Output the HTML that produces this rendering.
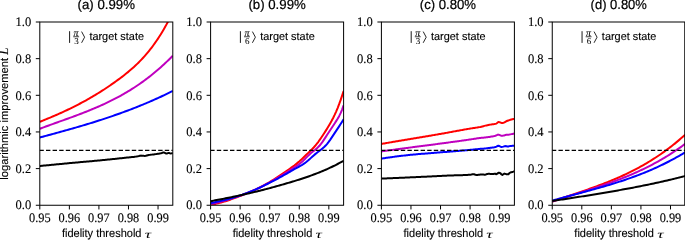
<!DOCTYPE html>
<html><head><meta charset="utf-8"><style>
html,body{margin:0;padding:0;background:#fff;}
svg{display:block;will-change:transform;}
text{text-rendering:geometricPrecision;}
.tk{font-family:"Liberation Serif",serif;font-size:13px;fill:#000;}
.sa{font-family:"Liberation Sans",sans-serif;fill:#000;}
.bd{stroke:#000;stroke-width:0.22px;}
.bl{stroke:#000;stroke-width:0.12px;}
</style></head><body>
<svg width="685" height="240" viewBox="0 0 685 240">
<rect width="685" height="240" fill="#fff"/>
<defs>
<clipPath id="c0"><rect x="39.8" y="22.0" width="133.0" height="183.25"/></clipPath>
<clipPath id="c1"><rect x="210.6" y="22.0" width="133.0" height="183.25"/></clipPath>
<clipPath id="c2"><rect x="381.4" y="22.0" width="133.0" height="183.25"/></clipPath>
<clipPath id="c3"><rect x="552.25" y="22.0" width="133.0" height="183.25"/></clipPath>
</defs>
<g clip-path="url(#c0)" fill="none" stroke-width="2.0" stroke-linejoin="round" stroke-linecap="butt">
<path d="M39.80,121.81 L41.29,121.22 L42.79,120.62 L44.28,120.02 L45.78,119.41 L47.27,118.80 L48.77,118.18 L50.26,117.56 L51.76,116.93 L53.25,116.29 L54.74,115.65 L56.24,114.99 L57.73,114.34 L59.23,113.67 L60.72,113.00 L62.22,112.32 L63.71,111.63 L65.20,110.93 L66.70,110.23 L68.19,109.52 L69.69,108.80 L71.18,108.07 L72.68,107.33 L74.17,106.58 L75.67,105.83 L77.16,105.06 L78.65,104.28 L80.15,103.50 L81.64,102.70 L83.14,101.90 L84.63,101.08 L86.13,100.26 L87.62,99.42 L89.11,98.57 L90.61,97.72 L92.10,96.85 L93.60,95.96 L95.09,95.07 L96.59,94.17 L98.08,93.25 L99.58,92.32 L101.07,91.38 L102.56,90.43 L104.06,89.47 L105.55,88.49 L107.05,87.50 L108.54,86.49 L110.04,85.47 L111.53,84.44 L113.02,83.40 L114.52,82.34 L116.01,81.27 L117.51,80.18 L119.00,79.08 L120.50,77.96 L121.99,76.83 L123.49,75.68 L124.98,74.51 L126.47,73.32 L127.97,72.10 L129.46,70.85 L130.96,69.58 L132.45,68.27 L133.95,66.93 L135.44,65.55 L136.93,64.14 L138.43,62.68 L139.92,61.17 L141.42,59.62 L142.91,58.03 L144.41,56.38 L145.90,54.67 L147.40,52.91 L148.89,51.10 L150.38,49.22 L151.88,47.28 L153.37,45.27 L154.87,43.20 L156.36,41.05 L157.86,38.84 L159.35,36.55 L160.84,34.18 L162.34,31.73 L163.83,29.20 L165.33,26.58 L166.82,23.88 L168.32,21.09 L169.81,18.21 L171.31,15.23 L172.80,12.16" stroke="#ff0000"/>
<path d="M39.80,128.77 L41.29,128.20 L42.79,127.65 L44.28,127.09 L45.78,126.54 L47.27,125.99 L48.77,125.45 L50.26,124.90 L51.76,124.36 L53.25,123.82 L54.74,123.28 L56.24,122.75 L57.73,122.21 L59.23,121.68 L60.72,121.14 L62.22,120.60 L63.71,120.07 L65.20,119.53 L66.70,118.99 L68.19,118.45 L69.69,117.91 L71.18,117.36 L72.68,116.82 L74.17,116.26 L75.67,115.71 L77.16,115.15 L78.65,114.59 L80.15,114.02 L81.64,113.45 L83.14,112.87 L84.63,112.29 L86.13,111.70 L87.62,111.11 L89.11,110.51 L90.61,109.90 L92.10,109.29 L93.60,108.66 L95.09,108.03 L96.59,107.39 L98.08,106.75 L99.58,106.09 L101.07,105.43 L102.56,104.75 L104.06,104.06 L105.55,103.37 L107.05,102.66 L108.54,101.94 L110.04,101.22 L111.53,100.47 L113.02,99.72 L114.52,98.96 L116.01,98.18 L117.51,97.39 L119.00,96.58 L120.50,95.76 L121.99,94.93 L123.49,94.08 L124.98,93.22 L126.47,92.34 L127.97,91.45 L129.46,90.54 L130.96,89.62 L132.45,88.68 L133.95,87.72 L135.44,86.74 L136.93,85.75 L138.43,84.74 L139.92,83.71 L141.42,82.66 L142.91,81.59 L144.41,80.50 L145.90,79.40 L147.40,78.27 L148.89,77.12 L150.38,75.95 L151.88,74.77 L153.37,73.56 L154.87,72.32 L156.36,71.07 L157.86,69.79 L159.35,68.49 L160.84,67.17 L162.34,65.82 L163.83,64.45 L165.33,63.06 L166.82,61.64 L168.32,60.19 L169.81,58.72 L171.31,57.23 L172.80,55.71" stroke="#bf00bf"/>
<path d="M39.80,137.49 L41.29,137.09 L42.79,136.69 L44.28,136.29 L45.78,135.89 L47.27,135.49 L48.77,135.09 L50.26,134.68 L51.76,134.28 L53.25,133.87 L54.74,133.46 L56.24,133.05 L57.73,132.64 L59.23,132.23 L60.72,131.82 L62.22,131.40 L63.71,130.99 L65.20,130.57 L66.70,130.15 L68.19,129.73 L69.69,129.31 L71.18,128.88 L72.68,128.45 L74.17,128.02 L75.67,127.59 L77.16,127.16 L78.65,126.72 L80.15,126.28 L81.64,125.84 L83.14,125.39 L84.63,124.95 L86.13,124.50 L87.62,124.04 L89.11,123.59 L90.61,123.13 L92.10,122.67 L93.60,122.20 L95.09,121.73 L96.59,121.26 L98.08,120.79 L99.58,120.31 L101.07,119.83 L102.56,119.34 L104.06,118.85 L105.55,118.36 L107.05,117.86 L108.54,117.36 L110.04,116.85 L111.53,116.34 L113.02,115.83 L114.52,115.31 L116.01,114.79 L117.51,114.26 L119.00,113.73 L120.50,113.20 L121.99,112.66 L123.49,112.11 L124.98,111.56 L126.47,111.01 L127.97,110.45 L129.46,109.88 L130.96,109.31 L132.45,108.74 L133.95,108.16 L135.44,107.57 L136.93,106.98 L138.43,106.39 L139.92,105.78 L141.42,105.18 L142.91,104.56 L144.41,103.94 L145.90,103.32 L147.40,102.69 L148.89,102.05 L150.38,101.41 L151.88,100.76 L153.37,100.10 L154.87,99.44 L156.36,98.77 L157.86,98.10 L159.35,97.42 L160.84,96.73 L162.34,96.03 L163.83,95.33 L165.33,94.62 L166.82,93.91 L168.32,93.19 L169.81,92.46 L171.31,91.72 L172.80,90.97" stroke="#0000ff"/>
<path d="M39.80,166.02 L40.80,165.92 L41.80,165.82 L42.80,165.72 L43.80,165.62 L44.80,165.53 L45.80,165.43 L46.80,165.33 L47.80,165.23 L48.80,165.13 L49.80,165.04 L50.80,164.94 L51.80,164.84 L52.80,164.74 L53.80,164.65 L54.80,164.55 L55.80,164.45 L56.80,164.36 L57.80,164.26 L58.80,164.16 L59.80,164.07 L60.80,163.97 L61.80,163.88 L62.80,163.78 L63.80,163.69 L64.80,163.59 L65.80,163.50 L66.80,163.40 L67.80,163.31 L68.80,163.21 L69.80,163.12 L70.80,163.02 L71.80,162.93 L72.80,162.84 L73.80,162.75 L74.80,162.66 L75.80,162.56 L76.80,162.47 L77.80,162.38 L78.80,162.29 L79.80,162.20 L80.80,162.12 L81.80,162.03 L82.80,161.94 L83.80,161.85 L84.80,161.76 L85.80,161.67 L86.80,161.58 L87.80,161.49 L88.80,161.40 L89.80,161.31 L90.80,161.23 L91.80,161.14 L92.80,161.05 L93.80,160.95 L94.80,160.86 L95.80,160.77 L96.80,160.68 L97.80,160.59 L98.80,160.49 L99.80,160.40 L100.80,160.31 L101.80,160.21 L102.80,160.11 L103.80,160.02 L104.80,159.92 L105.80,159.82 L106.80,159.72 L107.80,159.62 L108.80,159.52 L109.80,159.42 L110.80,159.31 L111.80,159.21 L112.80,159.11 L113.80,159.00 L114.80,158.90 L115.80,158.79 L116.80,158.68 L117.80,158.57 L118.80,158.47 L119.80,158.36 L120.80,158.25 L121.80,158.14 L122.80,158.03 L123.80,157.92 L124.80,157.81 L125.80,157.71 L126.80,157.61 L127.80,157.51 L128.80,157.42 L129.80,157.32 L130.80,157.22 L131.80,157.11 L132.80,157.01 L133.80,156.89 L134.80,156.77 L135.80,156.63 L136.80,156.49 L137.80,156.33 L138.80,156.11 L139.80,155.80 L140.80,155.61 L141.80,155.63 L142.80,155.73 L143.80,155.84 L144.80,155.90 L145.80,155.81 L146.80,155.52 L147.80,155.21 L148.80,155.02 L149.80,154.87 L150.80,154.74 L151.80,154.62 L152.80,154.51 L153.80,154.40 L154.80,154.27 L155.80,154.13 L156.80,153.99 L157.80,153.84 L158.80,153.68 L159.80,153.50 L160.80,153.30 L161.80,152.97 L162.80,152.60 L163.80,152.53 L164.80,152.92 L165.80,153.42 L166.80,153.58 L167.80,153.15 L168.80,152.91 L169.80,153.20 L170.80,153.40 L171.80,153.30 L172.80,153.00" stroke="#000000"/>
<line x1="39.4" y1="150.28" x2="172.8" y2="150.28" stroke="#000" stroke-width="1.25" stroke-dasharray="4.4 2.2"/>
</g>
<rect x="39.8" y="22.0" width="133.0" height="183.25" fill="none" stroke="#000" stroke-width="1"/>
<line x1="35.8" y1="205.25" x2="39.8" y2="205.25" stroke="#000" stroke-width="1"/>
<text class="tk bl" x="31.20" y="209.45" text-anchor="end" font-size="13.8" textLength="15.7" lengthAdjust="spacingAndGlyphs">0.0</text>
<line x1="35.8" y1="168.60" x2="39.8" y2="168.60" stroke="#000" stroke-width="1"/>
<text class="tk bl" x="31.20" y="172.80" text-anchor="end" font-size="13.8" textLength="15.7" lengthAdjust="spacingAndGlyphs">0.2</text>
<line x1="35.8" y1="131.95" x2="39.8" y2="131.95" stroke="#000" stroke-width="1"/>
<text class="tk bl" x="31.20" y="136.15" text-anchor="end" font-size="13.8" textLength="15.7" lengthAdjust="spacingAndGlyphs">0.4</text>
<line x1="35.8" y1="95.30" x2="39.8" y2="95.30" stroke="#000" stroke-width="1"/>
<text class="tk bl" x="31.20" y="99.50" text-anchor="end" font-size="13.8" textLength="15.7" lengthAdjust="spacingAndGlyphs">0.6</text>
<line x1="35.8" y1="58.65" x2="39.8" y2="58.65" stroke="#000" stroke-width="1"/>
<text class="tk bl" x="31.20" y="62.85" text-anchor="end" font-size="13.8" textLength="15.7" lengthAdjust="spacingAndGlyphs">0.8</text>
<line x1="35.8" y1="22.00" x2="39.8" y2="22.00" stroke="#000" stroke-width="1"/>
<text class="tk bl" x="31.20" y="26.20" text-anchor="end" font-size="13.8" textLength="15.7" lengthAdjust="spacingAndGlyphs">1.0</text>
<line x1="39.80" y1="205.25" x2="39.80" y2="209.45" stroke="#000" stroke-width="1"/>
<text class="tk bl" x="39.80" y="221.75" text-anchor="middle" font-size="13.8" textLength="21.6" lengthAdjust="spacingAndGlyphs">0.95</text>
<line x1="69.36" y1="205.25" x2="69.36" y2="209.45" stroke="#000" stroke-width="1"/>
<text class="tk bl" x="69.36" y="221.75" text-anchor="middle" font-size="13.8" textLength="21.6" lengthAdjust="spacingAndGlyphs">0.96</text>
<line x1="98.92" y1="205.25" x2="98.92" y2="209.45" stroke="#000" stroke-width="1"/>
<text class="tk bl" x="98.92" y="221.75" text-anchor="middle" font-size="13.8" textLength="21.6" lengthAdjust="spacingAndGlyphs">0.97</text>
<line x1="128.48" y1="205.25" x2="128.48" y2="209.45" stroke="#000" stroke-width="1"/>
<text class="tk bl" x="128.48" y="221.75" text-anchor="middle" font-size="13.8" textLength="21.6" lengthAdjust="spacingAndGlyphs">0.98</text>
<line x1="158.04" y1="205.25" x2="158.04" y2="209.45" stroke="#000" stroke-width="1"/>
<text class="tk bl" x="158.04" y="221.75" text-anchor="middle" font-size="13.8" textLength="21.6" lengthAdjust="spacingAndGlyphs">0.99</text>
<text class="sa bd" x="106.30" y="9.2" font-size="13.4" text-anchor="middle" textLength="57.4" lengthAdjust="spacingAndGlyphs">(a) 0.99%</text>
<text class="sa bl" x="61.90" y="237.4" font-size="11.6" textLength="79.6" lengthAdjust="spacingAndGlyphs">fidelity threshold</text>
<text x="144.70" y="237.7" font-family="Liberation Serif" font-style="italic" font-size="11.5" textLength="6.4" lengthAdjust="spacingAndGlyphs">τ</text>
<line x1="69.60" y1="31.2" x2="69.60" y2="42.9" stroke="#000" stroke-width="0.9"/>
<text x="73.60" y="35.7" font-family="Liberation Serif" font-style="italic" font-size="10" stroke="#000" stroke-width="0.1" textLength="5.0" lengthAdjust="spacingAndGlyphs">π</text>
<line x1="73.20" y1="36.75" x2="79.10" y2="36.75" stroke="#000" stroke-width="0.75"/>
<text x="74.20" y="44.1" font-family="Liberation Serif" font-size="9" stroke="#000" stroke-width="0.05">3</text>
<polyline points="81.60,31.6 84.60,37.2 81.60,42.8" fill="none" stroke="#000" stroke-width="0.85"/>
<text class="sa bl" x="89.40" y="40.4" font-size="11.2" textLength="54.6" lengthAdjust="spacingAndGlyphs">target state</text>
<g clip-path="url(#c1)" fill="none" stroke-width="2.0" stroke-linejoin="round" stroke-linecap="butt">
<path d="M210.60,204.66 L212.09,204.43 L213.59,204.18 L215.08,203.90 L216.58,203.58 L218.07,203.24 L219.57,202.88 L221.06,202.48 L222.56,202.07 L224.05,201.63 L225.54,201.17 L227.04,200.70 L228.53,200.20 L230.03,199.69 L231.52,199.17 L233.02,198.63 L234.51,198.08 L236.00,197.53 L237.50,196.96 L238.99,196.39 L240.49,195.81 L241.98,195.22 L243.48,194.63 L244.97,194.04 L246.47,193.43 L247.96,192.81 L249.45,192.19 L250.95,191.55 L252.44,190.90 L253.94,190.23 L255.43,189.55 L256.93,188.85 L258.42,188.13 L259.91,187.39 L261.41,186.64 L262.90,185.86 L264.40,185.05 L265.89,184.23 L267.39,183.38 L268.88,182.51 L270.38,181.63 L271.87,180.72 L273.36,179.80 L274.86,178.86 L276.35,177.90 L277.85,176.93 L279.34,175.94 L280.84,174.94 L282.33,173.93 L283.82,172.91 L285.32,171.88 L286.81,170.84 L288.31,169.79 L289.80,168.74 L291.30,167.67 L292.79,166.59 L294.29,165.49 L295.78,164.34 L297.27,163.14 L298.77,161.88 L300.26,160.55 L301.76,159.16 L303.25,157.73 L304.75,156.28 L306.24,154.83 L307.73,153.40 L309.23,151.97 L310.72,150.52 L312.22,149.03 L313.71,147.46 L315.21,145.79 L316.70,143.98 L318.20,142.02 L319.69,139.93 L321.18,137.75 L322.68,135.51 L324.17,133.23 L325.67,130.91 L327.16,128.52 L328.66,126.05 L330.15,123.48 L331.64,120.80 L333.14,117.95 L334.63,114.91 L336.13,111.62 L337.62,108.05 L339.12,104.21 L340.61,100.07 L342.11,95.66 L343.60,90.96" stroke="#ff0000"/>
<path d="M210.60,204.02 L212.09,203.72 L213.59,203.40 L215.08,203.07 L216.58,202.73 L218.07,202.38 L219.57,202.01 L221.06,201.63 L222.56,201.24 L224.05,200.83 L225.54,200.42 L227.04,199.99 L228.53,199.55 L230.03,199.10 L231.52,198.63 L233.02,198.15 L234.51,197.67 L236.00,197.17 L237.50,196.66 L238.99,196.13 L240.49,195.60 L241.98,195.06 L243.48,194.50 L244.97,193.93 L246.47,193.35 L247.96,192.76 L249.45,192.15 L250.95,191.53 L252.44,190.89 L253.94,190.24 L255.43,189.58 L256.93,188.90 L258.42,188.20 L259.91,187.49 L261.41,186.76 L262.90,186.02 L264.40,185.25 L265.89,184.47 L267.39,183.68 L268.88,182.87 L270.38,182.04 L271.87,181.20 L273.36,180.35 L274.86,179.48 L276.35,178.61 L277.85,177.72 L279.34,176.82 L280.84,175.91 L282.33,175.00 L283.82,174.08 L285.32,173.15 L286.81,172.21 L288.31,171.27 L289.80,170.32 L291.30,169.37 L292.79,168.42 L294.29,167.46 L295.78,166.50 L297.27,165.50 L298.77,164.44 L300.26,163.30 L301.76,162.05 L303.25,160.66 L304.75,159.18 L306.24,157.66 L307.73,156.14 L309.23,154.69 L310.72,153.34 L312.22,152.10 L313.71,150.91 L315.21,149.70 L316.70,148.44 L318.20,147.05 L319.69,145.49 L321.18,143.69 L322.68,141.63 L324.17,139.40 L325.67,137.09 L327.16,134.78 L328.66,132.51 L330.15,130.26 L331.64,128.02 L333.14,125.76 L334.63,123.47 L336.13,121.13 L337.62,118.73 L339.12,116.13 L340.61,113.15 L342.11,109.59 L343.60,105.26" stroke="#bf00bf"/>
<path d="M210.60,202.97 L212.09,202.71 L213.59,202.43 L215.08,202.15 L216.58,201.85 L218.07,201.54 L219.57,201.21 L221.06,200.88 L222.56,200.53 L224.05,200.17 L225.54,199.80 L227.04,199.41 L228.53,199.01 L230.03,198.60 L231.52,198.17 L233.02,197.73 L234.51,197.28 L236.00,196.82 L237.50,196.34 L238.99,195.85 L240.49,195.35 L241.98,194.83 L243.48,194.30 L244.97,193.75 L246.47,193.19 L247.96,192.62 L249.45,192.03 L250.95,191.43 L252.44,190.82 L253.94,190.19 L255.43,189.55 L256.93,188.90 L258.42,188.23 L259.91,187.55 L261.41,186.86 L262.90,186.15 L264.40,185.44 L265.89,184.71 L267.39,183.98 L268.88,183.23 L270.38,182.47 L271.87,181.70 L273.36,180.92 L274.86,180.13 L276.35,179.33 L277.85,178.53 L279.34,177.71 L280.84,176.89 L282.33,176.05 L283.82,175.21 L285.32,174.36 L286.81,173.51 L288.31,172.64 L289.80,171.78 L291.30,170.92 L292.79,170.06 L294.29,169.21 L295.78,168.38 L297.27,167.56 L298.77,166.75 L300.26,165.92 L301.76,165.05 L303.25,164.12 L304.75,163.11 L306.24,162.00 L307.73,160.78 L309.23,159.47 L310.72,158.12 L312.22,156.75 L313.71,155.41 L315.21,154.13 L316.70,152.94 L318.20,151.81 L319.69,150.70 L321.18,149.56 L322.68,148.36 L324.17,147.03 L325.67,145.55 L327.16,143.86 L328.66,141.95 L330.15,139.86 L331.64,137.65 L333.14,135.41 L334.63,133.16 L336.13,130.91 L337.62,128.64 L339.12,126.36 L340.61,124.06 L342.11,121.73 L343.60,119.36" stroke="#0000ff"/>
<path d="M210.60,201.17 L212.09,200.90 L213.59,200.62 L215.08,200.34 L216.58,200.06 L218.07,199.78 L219.57,199.49 L221.06,199.21 L222.56,198.92 L224.05,198.63 L225.54,198.33 L227.04,198.03 L228.53,197.73 L230.03,197.43 L231.52,197.13 L233.02,196.82 L234.51,196.51 L236.00,196.19 L237.50,195.87 L238.99,195.55 L240.49,195.23 L241.98,194.90 L243.48,194.57 L244.97,194.23 L246.47,193.89 L247.96,193.55 L249.45,193.20 L250.95,192.85 L252.44,192.50 L253.94,192.14 L255.43,191.78 L256.93,191.41 L258.42,191.04 L259.91,190.67 L261.41,190.29 L262.90,189.91 L264.40,189.52 L265.89,189.13 L267.39,188.74 L268.88,188.35 L270.38,187.95 L271.87,187.54 L273.36,187.14 L274.86,186.73 L276.35,186.31 L277.85,185.90 L279.34,185.48 L280.84,185.05 L282.33,184.63 L283.82,184.20 L285.32,183.77 L286.81,183.33 L288.31,182.89 L289.80,182.45 L291.30,182.00 L292.79,181.55 L294.29,181.10 L295.78,180.64 L297.27,180.17 L298.77,179.70 L300.26,179.22 L301.76,178.73 L303.25,178.24 L304.75,177.74 L306.24,177.23 L307.73,176.71 L309.23,176.19 L310.72,175.65 L312.22,175.11 L313.71,174.55 L315.21,173.99 L316.70,173.41 L318.20,172.83 L319.69,172.23 L321.18,171.62 L322.68,171.00 L324.17,170.36 L325.67,169.71 L327.16,169.05 L328.66,168.38 L330.15,167.69 L331.64,166.98 L333.14,166.26 L334.63,165.53 L336.13,164.78 L337.62,164.01 L339.12,163.23 L340.61,162.43 L342.11,161.61 L343.60,160.77" stroke="#000000"/>
<line x1="210.2" y1="150.28" x2="343.6" y2="150.28" stroke="#000" stroke-width="1.25" stroke-dasharray="4.4 2.2"/>
</g>
<rect x="210.6" y="22.0" width="133.0" height="183.25" fill="none" stroke="#000" stroke-width="1"/>
<line x1="206.6" y1="205.25" x2="210.6" y2="205.25" stroke="#000" stroke-width="1"/>
<text class="tk bl" x="202.00" y="209.45" text-anchor="end" font-size="13.8" textLength="15.7" lengthAdjust="spacingAndGlyphs">0.0</text>
<line x1="206.6" y1="168.60" x2="210.6" y2="168.60" stroke="#000" stroke-width="1"/>
<text class="tk bl" x="202.00" y="172.80" text-anchor="end" font-size="13.8" textLength="15.7" lengthAdjust="spacingAndGlyphs">0.2</text>
<line x1="206.6" y1="131.95" x2="210.6" y2="131.95" stroke="#000" stroke-width="1"/>
<text class="tk bl" x="202.00" y="136.15" text-anchor="end" font-size="13.8" textLength="15.7" lengthAdjust="spacingAndGlyphs">0.4</text>
<line x1="206.6" y1="95.30" x2="210.6" y2="95.30" stroke="#000" stroke-width="1"/>
<text class="tk bl" x="202.00" y="99.50" text-anchor="end" font-size="13.8" textLength="15.7" lengthAdjust="spacingAndGlyphs">0.6</text>
<line x1="206.6" y1="58.65" x2="210.6" y2="58.65" stroke="#000" stroke-width="1"/>
<text class="tk bl" x="202.00" y="62.85" text-anchor="end" font-size="13.8" textLength="15.7" lengthAdjust="spacingAndGlyphs">0.8</text>
<line x1="206.6" y1="22.00" x2="210.6" y2="22.00" stroke="#000" stroke-width="1"/>
<text class="tk bl" x="202.00" y="26.20" text-anchor="end" font-size="13.8" textLength="15.7" lengthAdjust="spacingAndGlyphs">1.0</text>
<line x1="210.60" y1="205.25" x2="210.60" y2="209.45" stroke="#000" stroke-width="1"/>
<text class="tk bl" x="210.60" y="221.75" text-anchor="middle" font-size="13.8" textLength="21.6" lengthAdjust="spacingAndGlyphs">0.95</text>
<line x1="240.16" y1="205.25" x2="240.16" y2="209.45" stroke="#000" stroke-width="1"/>
<text class="tk bl" x="240.16" y="221.75" text-anchor="middle" font-size="13.8" textLength="21.6" lengthAdjust="spacingAndGlyphs">0.96</text>
<line x1="269.72" y1="205.25" x2="269.72" y2="209.45" stroke="#000" stroke-width="1"/>
<text class="tk bl" x="269.72" y="221.75" text-anchor="middle" font-size="13.8" textLength="21.6" lengthAdjust="spacingAndGlyphs">0.97</text>
<line x1="299.28" y1="205.25" x2="299.28" y2="209.45" stroke="#000" stroke-width="1"/>
<text class="tk bl" x="299.28" y="221.75" text-anchor="middle" font-size="13.8" textLength="21.6" lengthAdjust="spacingAndGlyphs">0.98</text>
<line x1="328.84" y1="205.25" x2="328.84" y2="209.45" stroke="#000" stroke-width="1"/>
<text class="tk bl" x="328.84" y="221.75" text-anchor="middle" font-size="13.8" textLength="21.6" lengthAdjust="spacingAndGlyphs">0.99</text>
<text class="sa bd" x="277.10" y="9.2" font-size="13.4" text-anchor="middle" textLength="57.4" lengthAdjust="spacingAndGlyphs">(b) 0.99%</text>
<text class="sa bl" x="232.70" y="237.4" font-size="11.6" textLength="79.6" lengthAdjust="spacingAndGlyphs">fidelity threshold</text>
<text x="315.50" y="237.7" font-family="Liberation Serif" font-style="italic" font-size="11.5" textLength="6.4" lengthAdjust="spacingAndGlyphs">τ</text>
<line x1="240.40" y1="31.2" x2="240.40" y2="42.9" stroke="#000" stroke-width="0.9"/>
<text x="244.40" y="35.7" font-family="Liberation Serif" font-style="italic" font-size="10" stroke="#000" stroke-width="0.1" textLength="5.0" lengthAdjust="spacingAndGlyphs">π</text>
<line x1="244.00" y1="36.75" x2="249.90" y2="36.75" stroke="#000" stroke-width="0.75"/>
<text x="245.00" y="44.1" font-family="Liberation Serif" font-size="9" stroke="#000" stroke-width="0.05">6</text>
<polyline points="252.40,31.6 255.40,37.2 252.40,42.8" fill="none" stroke="#000" stroke-width="0.85"/>
<text class="sa bl" x="260.20" y="40.4" font-size="11.2" textLength="54.6" lengthAdjust="spacingAndGlyphs">target state</text>
<g clip-path="url(#c2)" fill="none" stroke-width="2.0" stroke-linejoin="round" stroke-linecap="butt">
<path d="M381.40,143.90 L382.40,143.73 L383.40,143.56 L384.40,143.39 L385.40,143.22 L386.40,143.05 L387.40,142.88 L388.40,142.71 L389.40,142.54 L390.40,142.37 L391.40,142.20 L392.40,142.03 L393.40,141.86 L394.40,141.69 L395.40,141.52 L396.40,141.35 L397.40,141.18 L398.40,141.01 L399.40,140.84 L400.40,140.67 L401.40,140.50 L402.40,140.34 L403.40,140.17 L404.40,140.00 L405.40,139.83 L406.40,139.66 L407.40,139.49 L408.40,139.32 L409.40,139.15 L410.40,138.98 L411.40,138.81 L412.40,138.65 L413.40,138.48 L414.40,138.31 L415.40,138.14 L416.40,137.98 L417.40,137.81 L418.40,137.64 L419.40,137.48 L420.40,137.31 L421.40,137.14 L422.40,136.98 L423.40,136.81 L424.40,136.64 L425.40,136.48 L426.40,136.31 L427.40,136.14 L428.40,135.98 L429.40,135.81 L430.40,135.64 L431.40,135.47 L432.40,135.30 L433.40,135.13 L434.40,134.96 L435.40,134.79 L436.40,134.62 L437.40,134.45 L438.40,134.28 L439.40,134.10 L440.40,133.93 L441.40,133.75 L442.40,133.58 L443.40,133.40 L444.40,133.22 L445.40,133.04 L446.40,132.86 L447.40,132.68 L448.40,132.49 L449.40,132.31 L450.40,132.13 L451.40,131.94 L452.40,131.76 L453.40,131.57 L454.40,131.39 L455.40,131.20 L456.40,131.02 L457.40,130.83 L458.40,130.65 L459.40,130.47 L460.40,130.29 L461.40,130.11 L462.40,129.92 L463.40,129.75 L464.40,129.57 L465.40,129.39 L466.40,129.22 L467.40,129.04 L468.40,128.87 L469.40,128.70 L470.40,128.53 L471.40,128.37 L472.40,128.22 L473.40,128.07 L474.40,127.93 L475.40,127.78 L476.40,127.63 L477.40,127.47 L478.40,127.30 L479.40,127.12 L480.40,126.92 L481.40,126.68 L482.40,126.43 L483.40,126.16 L484.40,125.89 L485.40,125.64 L486.40,125.41 L487.40,125.20 L488.40,125.01 L489.40,124.81 L490.40,124.63 L491.40,124.48 L492.40,124.36 L493.40,124.23 L494.40,124.08 L495.40,123.88 L496.40,123.60 L497.40,122.77 L498.40,121.90 L499.40,122.12 L500.40,122.54 L501.40,122.90 L502.40,122.99 L503.40,122.75 L504.40,122.31 L505.40,121.77 L506.40,121.23 L507.40,120.78 L508.40,120.45 L509.40,120.13 L510.40,119.83 L511.40,119.55 L512.40,119.30 L513.40,119.08 L514.40,118.90" stroke="#ff0000"/>
<path d="M381.40,151.40 L382.40,151.26 L383.40,151.13 L384.40,150.99 L385.40,150.85 L386.40,150.72 L387.40,150.58 L388.40,150.45 L389.40,150.31 L390.40,150.17 L391.40,150.04 L392.40,149.90 L393.40,149.77 L394.40,149.63 L395.40,149.50 L396.40,149.36 L397.40,149.23 L398.40,149.10 L399.40,148.96 L400.40,148.83 L401.40,148.69 L402.40,148.56 L403.40,148.43 L404.40,148.29 L405.40,148.16 L406.40,148.03 L407.40,147.89 L408.40,147.76 L409.40,147.63 L410.40,147.50 L411.40,147.37 L412.40,147.23 L413.40,147.10 L414.40,146.97 L415.40,146.84 L416.40,146.71 L417.40,146.58 L418.40,146.45 L419.40,146.33 L420.40,146.20 L421.40,146.07 L422.40,145.94 L423.40,145.81 L424.40,145.68 L425.40,145.56 L426.40,145.43 L427.40,145.30 L428.40,145.17 L429.40,145.04 L430.40,144.91 L431.40,144.78 L432.40,144.65 L433.40,144.52 L434.40,144.39 L435.40,144.26 L436.40,144.13 L437.40,144.00 L438.40,143.86 L439.40,143.73 L440.40,143.60 L441.40,143.46 L442.40,143.33 L443.40,143.19 L444.40,143.06 L445.40,142.92 L446.40,142.79 L447.40,142.65 L448.40,142.52 L449.40,142.38 L450.40,142.25 L451.40,142.11 L452.40,141.97 L453.40,141.84 L454.40,141.70 L455.40,141.56 L456.40,141.42 L457.40,141.28 L458.40,141.15 L459.40,141.01 L460.40,140.87 L461.40,140.73 L462.40,140.59 L463.40,140.44 L464.40,140.30 L465.40,140.16 L466.40,140.02 L467.40,139.87 L468.40,139.73 L469.40,139.59 L470.40,139.44 L471.40,139.29 L472.40,139.13 L473.40,138.97 L474.40,138.81 L475.40,138.65 L476.40,138.50 L477.40,138.35 L478.40,138.21 L479.40,138.07 L480.40,137.95 L481.40,137.85 L482.40,137.76 L483.40,137.67 L484.40,137.57 L485.40,137.47 L486.40,137.35 L487.40,137.22 L488.40,137.08 L489.40,136.92 L490.40,136.76 L491.40,136.59 L492.40,136.42 L493.40,136.24 L494.40,136.04 L495.40,135.77 L496.40,135.31 L497.40,134.84 L498.40,134.60 L499.40,134.86 L500.40,135.43 L501.40,135.80 L502.40,135.75 L503.40,135.60 L504.40,135.40 L505.40,135.05 L506.40,134.84 L507.40,134.75 L508.40,134.67 L509.40,134.54 L510.40,134.36 L511.40,134.14 L512.40,133.93 L513.40,133.75 L514.40,133.60" stroke="#bf00bf"/>
<path d="M381.40,158.60 L382.40,158.45 L383.40,158.30 L384.40,158.15 L385.40,158.00 L386.40,157.86 L387.40,157.71 L388.40,157.57 L389.40,157.43 L390.40,157.29 L391.40,157.15 L392.40,157.01 L393.40,156.88 L394.40,156.74 L395.40,156.61 L396.40,156.48 L397.40,156.35 L398.40,156.22 L399.40,156.10 L400.40,155.98 L401.40,155.85 L402.40,155.74 L403.40,155.62 L404.40,155.50 L405.40,155.39 L406.40,155.28 L407.40,155.17 L408.40,155.07 L409.40,154.96 L410.40,154.86 L411.40,154.76 L412.40,154.66 L413.40,154.57 L414.40,154.47 L415.40,154.38 L416.40,154.29 L417.40,154.21 L418.40,154.12 L419.40,154.04 L420.40,153.95 L421.40,153.87 L422.40,153.79 L423.40,153.71 L424.40,153.63 L425.40,153.55 L426.40,153.47 L427.40,153.39 L428.40,153.32 L429.40,153.24 L430.40,153.16 L431.40,153.08 L432.40,153.01 L433.40,152.93 L434.40,152.85 L435.40,152.77 L436.40,152.69 L437.40,152.61 L438.40,152.53 L439.40,152.45 L440.40,152.37 L441.40,152.28 L442.40,152.20 L443.40,152.12 L444.40,152.04 L445.40,151.96 L446.40,151.88 L447.40,151.80 L448.40,151.72 L449.40,151.63 L450.40,151.55 L451.40,151.47 L452.40,151.39 L453.40,151.31 L454.40,151.23 L455.40,151.15 L456.40,151.07 L457.40,150.99 L458.40,150.91 L459.40,150.82 L460.40,150.74 L461.40,150.66 L462.40,150.57 L463.40,150.49 L464.40,150.40 L465.40,150.31 L466.40,150.23 L467.40,150.14 L468.40,150.05 L469.40,149.96 L470.40,149.86 L471.40,149.77 L472.40,149.67 L473.40,149.56 L474.40,149.46 L475.40,149.36 L476.40,149.25 L477.40,149.15 L478.40,149.05 L479.40,148.96 L480.40,148.86 L481.40,148.78 L482.40,148.71 L483.40,148.63 L484.40,148.55 L485.40,148.46 L486.40,148.36 L487.40,148.23 L488.40,148.09 L489.40,147.95 L490.40,147.80 L491.40,147.65 L492.40,147.51 L493.40,147.40 L494.40,147.29 L495.40,147.09 L496.40,146.58 L497.40,146.01 L498.40,145.70 L499.40,145.98 L500.40,146.60 L501.40,147.00 L502.40,146.88 L503.40,146.62 L504.40,146.33 L505.40,146.10 L506.40,146.31 L507.40,146.60 L508.40,146.44 L509.40,146.12 L510.40,145.96 L511.40,145.90 L512.40,145.84 L513.40,145.78 L514.40,145.70" stroke="#0000ff"/>
<path d="M381.40,178.60 L382.40,178.56 L383.40,178.52 L384.40,178.48 L385.40,178.44 L386.40,178.40 L387.40,178.36 L388.40,178.31 L389.40,178.27 L390.40,178.23 L391.40,178.19 L392.40,178.15 L393.40,178.10 L394.40,178.06 L395.40,178.02 L396.40,177.98 L397.40,177.93 L398.40,177.89 L399.40,177.85 L400.40,177.80 L401.40,177.76 L402.40,177.72 L403.40,177.67 L404.40,177.63 L405.40,177.58 L406.40,177.54 L407.40,177.50 L408.40,177.45 L409.40,177.41 L410.40,177.36 L411.40,177.32 L412.40,177.27 L413.40,177.23 L414.40,177.18 L415.40,177.14 L416.40,177.09 L417.40,177.05 L418.40,177.00 L419.40,176.95 L420.40,176.91 L421.40,176.86 L422.40,176.82 L423.40,176.77 L424.40,176.72 L425.40,176.68 L426.40,176.63 L427.40,176.58 L428.40,176.54 L429.40,176.49 L430.40,176.44 L431.40,176.39 L432.40,176.34 L433.40,176.29 L434.40,176.23 L435.40,176.18 L436.40,176.13 L437.40,176.08 L438.40,176.03 L439.40,175.98 L440.40,175.93 L441.40,175.88 L442.40,175.83 L443.40,175.79 L444.40,175.74 L445.40,175.69 L446.40,175.65 L447.40,175.60 L448.40,175.56 L449.40,175.53 L450.40,175.49 L451.40,175.46 L452.40,175.43 L453.40,175.40 L454.40,175.37 L455.40,175.34 L456.40,175.32 L457.40,175.29 L458.40,175.26 L459.40,175.23 L460.40,175.20 L461.40,175.17 L462.40,175.14 L463.40,175.10 L464.40,175.06 L465.40,175.01 L466.40,174.97 L467.40,174.91 L468.40,174.85 L469.40,174.79 L470.40,174.71 L471.40,174.54 L472.40,174.34 L473.40,174.21 L474.40,174.36 L475.40,174.86 L476.40,174.99 L477.40,174.91 L478.40,174.78 L479.40,174.64 L480.40,174.54 L481.40,174.50 L482.40,174.54 L483.40,174.62 L484.40,174.69 L485.40,174.66 L486.40,174.29 L487.40,173.89 L488.40,173.81 L489.40,173.87 L490.40,173.96 L491.40,174.05 L492.40,174.10 L493.40,174.02 L494.40,173.86 L495.40,173.75 L496.40,174.25 L497.40,173.69 L498.40,172.71 L499.40,172.83 L500.40,173.25 L501.40,174.42 L502.40,174.98 L503.40,174.28 L504.40,173.61 L505.40,173.89 L506.40,174.16 L507.40,174.27 L508.40,174.27 L509.40,173.11 L510.40,172.50 L511.40,172.17 L512.40,171.91 L513.40,171.63 L514.40,171.30" stroke="#000000"/>
<line x1="381.0" y1="150.28" x2="514.4" y2="150.28" stroke="#000" stroke-width="1.25" stroke-dasharray="4.4 2.2"/>
</g>
<rect x="381.4" y="22.0" width="133.0" height="183.25" fill="none" stroke="#000" stroke-width="1"/>
<line x1="377.4" y1="205.25" x2="381.4" y2="205.25" stroke="#000" stroke-width="1"/>
<text class="tk bl" x="372.80" y="209.45" text-anchor="end" font-size="13.8" textLength="15.7" lengthAdjust="spacingAndGlyphs">0.0</text>
<line x1="377.4" y1="168.60" x2="381.4" y2="168.60" stroke="#000" stroke-width="1"/>
<text class="tk bl" x="372.80" y="172.80" text-anchor="end" font-size="13.8" textLength="15.7" lengthAdjust="spacingAndGlyphs">0.2</text>
<line x1="377.4" y1="131.95" x2="381.4" y2="131.95" stroke="#000" stroke-width="1"/>
<text class="tk bl" x="372.80" y="136.15" text-anchor="end" font-size="13.8" textLength="15.7" lengthAdjust="spacingAndGlyphs">0.4</text>
<line x1="377.4" y1="95.30" x2="381.4" y2="95.30" stroke="#000" stroke-width="1"/>
<text class="tk bl" x="372.80" y="99.50" text-anchor="end" font-size="13.8" textLength="15.7" lengthAdjust="spacingAndGlyphs">0.6</text>
<line x1="377.4" y1="58.65" x2="381.4" y2="58.65" stroke="#000" stroke-width="1"/>
<text class="tk bl" x="372.80" y="62.85" text-anchor="end" font-size="13.8" textLength="15.7" lengthAdjust="spacingAndGlyphs">0.8</text>
<line x1="377.4" y1="22.00" x2="381.4" y2="22.00" stroke="#000" stroke-width="1"/>
<text class="tk bl" x="372.80" y="26.20" text-anchor="end" font-size="13.8" textLength="15.7" lengthAdjust="spacingAndGlyphs">1.0</text>
<line x1="381.40" y1="205.25" x2="381.40" y2="209.45" stroke="#000" stroke-width="1"/>
<text class="tk bl" x="381.40" y="221.75" text-anchor="middle" font-size="13.8" textLength="21.6" lengthAdjust="spacingAndGlyphs">0.95</text>
<line x1="410.96" y1="205.25" x2="410.96" y2="209.45" stroke="#000" stroke-width="1"/>
<text class="tk bl" x="410.96" y="221.75" text-anchor="middle" font-size="13.8" textLength="21.6" lengthAdjust="spacingAndGlyphs">0.96</text>
<line x1="440.52" y1="205.25" x2="440.52" y2="209.45" stroke="#000" stroke-width="1"/>
<text class="tk bl" x="440.52" y="221.75" text-anchor="middle" font-size="13.8" textLength="21.6" lengthAdjust="spacingAndGlyphs">0.97</text>
<line x1="470.08" y1="205.25" x2="470.08" y2="209.45" stroke="#000" stroke-width="1"/>
<text class="tk bl" x="470.08" y="221.75" text-anchor="middle" font-size="13.8" textLength="21.6" lengthAdjust="spacingAndGlyphs">0.98</text>
<line x1="499.64" y1="205.25" x2="499.64" y2="209.45" stroke="#000" stroke-width="1"/>
<text class="tk bl" x="499.64" y="221.75" text-anchor="middle" font-size="13.8" textLength="21.6" lengthAdjust="spacingAndGlyphs">0.99</text>
<text class="sa bd" x="447.90" y="9.2" font-size="13.4" text-anchor="middle" textLength="56.3" lengthAdjust="spacingAndGlyphs">(c) 0.80%</text>
<text class="sa bl" x="403.50" y="237.4" font-size="11.6" textLength="79.6" lengthAdjust="spacingAndGlyphs">fidelity threshold</text>
<text x="486.30" y="237.7" font-family="Liberation Serif" font-style="italic" font-size="11.5" textLength="6.4" lengthAdjust="spacingAndGlyphs">τ</text>
<line x1="411.20" y1="31.2" x2="411.20" y2="42.9" stroke="#000" stroke-width="0.9"/>
<text x="415.20" y="35.7" font-family="Liberation Serif" font-style="italic" font-size="10" stroke="#000" stroke-width="0.1" textLength="5.0" lengthAdjust="spacingAndGlyphs">π</text>
<line x1="414.80" y1="36.75" x2="420.70" y2="36.75" stroke="#000" stroke-width="0.75"/>
<text x="415.80" y="44.1" font-family="Liberation Serif" font-size="9" stroke="#000" stroke-width="0.05">3</text>
<polyline points="423.20,31.6 426.20,37.2 423.20,42.8" fill="none" stroke="#000" stroke-width="0.85"/>
<text class="sa bl" x="431.00" y="40.4" font-size="11.2" textLength="54.6" lengthAdjust="spacingAndGlyphs">target state</text>
<g clip-path="url(#c3)" fill="none" stroke-width="2.0" stroke-linejoin="round" stroke-linecap="butt">
<path d="M552.25,201.55 L553.74,201.03 L555.24,200.52 L556.73,200.00 L558.23,199.49 L559.72,198.98 L561.22,198.48 L562.71,197.97 L564.21,197.47 L565.70,196.96 L567.19,196.46 L568.69,195.96 L570.18,195.46 L571.68,194.96 L573.17,194.45 L574.67,193.95 L576.16,193.44 L577.65,192.94 L579.15,192.43 L580.64,191.92 L582.14,191.41 L583.63,190.89 L585.13,190.38 L586.62,189.86 L588.12,189.33 L589.61,188.80 L591.10,188.27 L592.60,187.74 L594.09,187.20 L595.59,186.65 L597.08,186.10 L598.58,185.55 L600.07,184.99 L601.56,184.42 L603.06,183.85 L604.55,183.27 L606.05,182.69 L607.54,182.09 L609.04,181.49 L610.53,180.89 L612.03,180.27 L613.52,179.65 L615.01,179.01 L616.51,178.37 L618.00,177.72 L619.50,177.06 L620.99,176.40 L622.49,175.72 L623.98,175.03 L625.47,174.33 L626.97,173.62 L628.46,172.90 L629.96,172.17 L631.45,171.43 L632.95,170.67 L634.44,169.90 L635.94,169.12 L637.43,168.33 L638.92,167.53 L640.42,166.71 L641.91,165.88 L643.41,165.03 L644.90,164.17 L646.40,163.30 L647.89,162.41 L649.38,161.51 L650.88,160.59 L652.37,159.65 L653.87,158.70 L655.36,157.74 L656.86,156.76 L658.35,155.76 L659.85,154.74 L661.34,153.71 L662.83,152.66 L664.33,151.59 L665.82,150.51 L667.32,149.40 L668.81,148.28 L670.31,147.14 L671.80,145.98 L673.29,144.80 L674.79,143.60 L676.28,142.38 L677.78,141.14 L679.27,139.88 L680.77,138.59 L682.26,137.29 L683.76,135.97 L685.25,134.62" stroke="#ff0000"/>
<path d="M552.25,201.46 L553.74,200.97 L555.24,200.49 L556.73,200.01 L558.23,199.53 L559.72,199.05 L561.22,198.58 L562.71,198.11 L564.21,197.64 L565.70,197.17 L567.19,196.70 L568.69,196.23 L570.18,195.77 L571.68,195.30 L573.17,194.84 L574.67,194.37 L576.16,193.91 L577.65,193.44 L579.15,192.98 L580.64,192.51 L582.14,192.04 L583.63,191.57 L585.13,191.10 L586.62,190.63 L588.12,190.15 L589.61,189.68 L591.10,189.20 L592.60,188.71 L594.09,188.23 L595.59,187.74 L597.08,187.25 L598.58,186.75 L600.07,186.25 L601.56,185.75 L603.06,185.24 L604.55,184.73 L606.05,184.21 L607.54,183.69 L609.04,183.16 L610.53,182.63 L612.03,182.09 L613.52,181.55 L615.01,181.00 L616.51,180.44 L618.00,179.88 L619.50,179.31 L620.99,178.73 L622.49,178.14 L623.98,177.55 L625.47,176.95 L626.97,176.34 L628.46,175.72 L629.96,175.10 L631.45,174.46 L632.95,173.82 L634.44,173.17 L635.94,172.50 L637.43,171.83 L638.92,171.15 L640.42,170.46 L641.91,169.76 L643.41,169.04 L644.90,168.32 L646.40,167.58 L647.89,166.84 L649.38,166.08 L650.88,165.31 L652.37,164.53 L653.87,163.73 L655.36,162.93 L656.86,162.11 L658.35,161.28 L659.85,160.43 L661.34,159.57 L662.83,158.70 L664.33,157.81 L665.82,156.91 L667.32,156.00 L668.81,155.07 L670.31,154.12 L671.80,153.16 L673.29,152.19 L674.79,151.20 L676.28,150.19 L677.78,149.17 L679.27,148.13 L680.77,147.08 L682.26,146.01 L683.76,144.92 L685.25,143.81" stroke="#bf00bf"/>
<path d="M552.25,200.62 L553.74,200.20 L555.24,199.78 L556.73,199.37 L558.23,198.96 L559.72,198.55 L561.22,198.14 L562.71,197.73 L564.21,197.33 L565.70,196.92 L567.19,196.52 L568.69,196.12 L570.18,195.72 L571.68,195.32 L573.17,194.92 L574.67,194.52 L576.16,194.12 L577.65,193.72 L579.15,193.31 L580.64,192.91 L582.14,192.51 L583.63,192.11 L585.13,191.70 L586.62,191.30 L588.12,190.89 L589.61,190.48 L591.10,190.07 L592.60,189.66 L594.09,189.24 L595.59,188.83 L597.08,188.41 L598.58,187.98 L600.07,187.56 L601.56,187.13 L603.06,186.70 L604.55,186.26 L606.05,185.82 L607.54,185.38 L609.04,184.93 L610.53,184.48 L612.03,184.02 L613.52,183.56 L615.01,183.09 L616.51,182.62 L618.00,182.14 L619.50,181.66 L620.99,181.18 L622.49,180.68 L623.98,180.18 L625.47,179.68 L626.97,179.17 L628.46,178.65 L629.96,178.12 L631.45,177.59 L632.95,177.05 L634.44,176.50 L635.94,175.95 L637.43,175.39 L638.92,174.82 L640.42,174.24 L641.91,173.66 L643.41,173.06 L644.90,172.46 L646.40,171.85 L647.89,171.23 L649.38,170.60 L650.88,169.96 L652.37,169.31 L653.87,168.65 L655.36,167.98 L656.86,167.30 L658.35,166.62 L659.85,165.92 L661.34,165.21 L662.83,164.49 L664.33,163.76 L665.82,163.01 L667.32,162.26 L668.81,161.49 L670.31,160.72 L671.80,159.93 L673.29,159.12 L674.79,158.31 L676.28,157.48 L677.78,156.65 L679.27,155.79 L680.77,154.93 L682.26,154.05 L683.76,153.16 L685.25,152.25" stroke="#0000ff"/>
<path d="M552.25,200.99 L553.74,200.76 L555.24,200.54 L556.73,200.31 L558.23,200.08 L559.72,199.85 L561.22,199.62 L562.71,199.39 L564.21,199.16 L565.70,198.93 L567.19,198.70 L568.69,198.47 L570.18,198.24 L571.68,198.01 L573.17,197.78 L574.67,197.55 L576.16,197.32 L577.65,197.08 L579.15,196.85 L580.64,196.62 L582.14,196.38 L583.63,196.14 L585.13,195.91 L586.62,195.67 L588.12,195.43 L589.61,195.19 L591.10,194.95 L592.60,194.71 L594.09,194.47 L595.59,194.22 L597.08,193.98 L598.58,193.73 L600.07,193.49 L601.56,193.24 L603.06,192.99 L604.55,192.74 L606.05,192.48 L607.54,192.23 L609.04,191.97 L610.53,191.72 L612.03,191.46 L613.52,191.20 L615.01,190.94 L616.51,190.67 L618.00,190.41 L619.50,190.14 L620.99,189.87 L622.49,189.60 L623.98,189.33 L625.47,189.05 L626.97,188.78 L628.46,188.50 L629.96,188.22 L631.45,187.93 L632.95,187.65 L634.44,187.36 L635.94,187.07 L637.43,186.78 L638.92,186.49 L640.42,186.19 L641.91,185.89 L643.41,185.59 L644.90,185.29 L646.40,184.98 L647.89,184.67 L649.38,184.36 L650.88,184.05 L652.37,183.73 L653.87,183.41 L655.36,183.09 L656.86,182.76 L658.35,182.44 L659.85,182.11 L661.34,181.77 L662.83,181.44 L664.33,181.10 L665.82,180.75 L667.32,180.41 L668.81,180.06 L670.31,179.71 L671.80,179.35 L673.29,178.99 L674.79,178.63 L676.28,178.27 L677.78,177.90 L679.27,177.52 L680.77,177.15 L682.26,176.77 L683.76,176.39 L685.25,176.00" stroke="#000000"/>
<line x1="551.85" y1="150.28" x2="685.25" y2="150.28" stroke="#000" stroke-width="1.25" stroke-dasharray="4.4 2.2"/>
</g>
<rect x="552.25" y="22.0" width="132.5" height="183.25" fill="none" stroke="#000" stroke-width="1"/>
<line x1="548.25" y1="205.25" x2="552.25" y2="205.25" stroke="#000" stroke-width="1"/>
<text class="tk bl" x="543.65" y="209.45" text-anchor="end" font-size="13.8" textLength="15.7" lengthAdjust="spacingAndGlyphs">0.0</text>
<line x1="548.25" y1="168.60" x2="552.25" y2="168.60" stroke="#000" stroke-width="1"/>
<text class="tk bl" x="543.65" y="172.80" text-anchor="end" font-size="13.8" textLength="15.7" lengthAdjust="spacingAndGlyphs">0.2</text>
<line x1="548.25" y1="131.95" x2="552.25" y2="131.95" stroke="#000" stroke-width="1"/>
<text class="tk bl" x="543.65" y="136.15" text-anchor="end" font-size="13.8" textLength="15.7" lengthAdjust="spacingAndGlyphs">0.4</text>
<line x1="548.25" y1="95.30" x2="552.25" y2="95.30" stroke="#000" stroke-width="1"/>
<text class="tk bl" x="543.65" y="99.50" text-anchor="end" font-size="13.8" textLength="15.7" lengthAdjust="spacingAndGlyphs">0.6</text>
<line x1="548.25" y1="58.65" x2="552.25" y2="58.65" stroke="#000" stroke-width="1"/>
<text class="tk bl" x="543.65" y="62.85" text-anchor="end" font-size="13.8" textLength="15.7" lengthAdjust="spacingAndGlyphs">0.8</text>
<line x1="548.25" y1="22.00" x2="552.25" y2="22.00" stroke="#000" stroke-width="1"/>
<text class="tk bl" x="543.65" y="26.20" text-anchor="end" font-size="13.8" textLength="15.7" lengthAdjust="spacingAndGlyphs">1.0</text>
<line x1="552.25" y1="205.25" x2="552.25" y2="209.45" stroke="#000" stroke-width="1"/>
<text class="tk bl" x="552.25" y="221.75" text-anchor="middle" font-size="13.8" textLength="21.6" lengthAdjust="spacingAndGlyphs">0.95</text>
<line x1="581.81" y1="205.25" x2="581.81" y2="209.45" stroke="#000" stroke-width="1"/>
<text class="tk bl" x="581.81" y="221.75" text-anchor="middle" font-size="13.8" textLength="21.6" lengthAdjust="spacingAndGlyphs">0.96</text>
<line x1="611.37" y1="205.25" x2="611.37" y2="209.45" stroke="#000" stroke-width="1"/>
<text class="tk bl" x="611.37" y="221.75" text-anchor="middle" font-size="13.8" textLength="21.6" lengthAdjust="spacingAndGlyphs">0.97</text>
<line x1="640.93" y1="205.25" x2="640.93" y2="209.45" stroke="#000" stroke-width="1"/>
<text class="tk bl" x="640.93" y="221.75" text-anchor="middle" font-size="13.8" textLength="21.6" lengthAdjust="spacingAndGlyphs">0.98</text>
<line x1="670.49" y1="205.25" x2="670.49" y2="209.45" stroke="#000" stroke-width="1"/>
<text class="tk bl" x="670.49" y="221.75" text-anchor="middle" font-size="13.8" textLength="21.6" lengthAdjust="spacingAndGlyphs">0.99</text>
<text class="sa bd" x="618.75" y="9.2" font-size="13.4" text-anchor="middle" textLength="56.3" lengthAdjust="spacingAndGlyphs">(d) 0.80%</text>
<text class="sa bl" x="574.35" y="237.4" font-size="11.6" textLength="79.6" lengthAdjust="spacingAndGlyphs">fidelity threshold</text>
<text x="657.15" y="237.7" font-family="Liberation Serif" font-style="italic" font-size="11.5" textLength="6.4" lengthAdjust="spacingAndGlyphs">τ</text>
<line x1="582.05" y1="31.2" x2="582.05" y2="42.9" stroke="#000" stroke-width="0.9"/>
<text x="586.05" y="35.7" font-family="Liberation Serif" font-style="italic" font-size="10" stroke="#000" stroke-width="0.1" textLength="5.0" lengthAdjust="spacingAndGlyphs">π</text>
<line x1="585.65" y1="36.75" x2="591.55" y2="36.75" stroke="#000" stroke-width="0.75"/>
<text x="586.65" y="44.1" font-family="Liberation Serif" font-size="9" stroke="#000" stroke-width="0.05">6</text>
<polyline points="594.05,31.6 597.05,37.2 594.05,42.8" fill="none" stroke="#000" stroke-width="0.85"/>
<text class="sa bl" x="601.85" y="40.4" font-size="11.2" textLength="54.6" lengthAdjust="spacingAndGlyphs">target state</text>
<text class="sa bl" transform="translate(7.6,113.62) rotate(-90)" font-size="11.2" text-anchor="middle">logarithmic improvement <tspan font-family="Liberation Serif" font-style="italic" font-size="13">L</tspan></text>
</svg></body></html>
